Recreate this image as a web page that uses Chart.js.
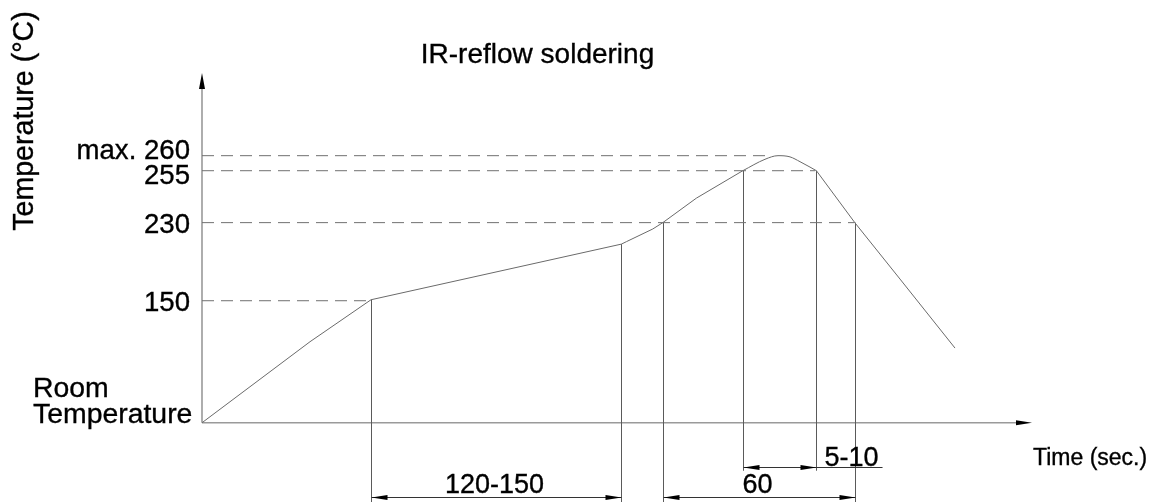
<!DOCTYPE html>
<html>
<head>
<meta charset="utf-8">
<script src="https://cdn.jsdelivr.net/npm/chart.js@4.4.1/dist/chart.umd.min.js"></script>
<style>
    html, body { margin: 0; padding: 0; background: #fff; }
    canvas { display: block; }
</style>
</head>
<body>
<canvas id="reflowChart" width="1163" height="502"></canvas>
<script>
// soldering profile, time in sec (schematic), temperature in °C
const roomTemp = 25;
const riseTime = [0, 54, 84.5, 209.7, 212.2, 225.4, 230.4, 247.2, 270.4];
const riseTemp = [25, 108, 151, 208, 210.5, 223.5, 230, 241.8, 255];
const peakTime = [270.4, 281.5, 288, 294, 299, 304, 307.2];
const peakTemp = [255, 258.8, 260, 259.6, 258, 256.2, 255];
const coolTime = [307.2, 326.4, 349, 376.5];
const coolTemp = [255, 230, 172.2, 101.5];

// temperature levels (dashed guides) and where they meet the curve
const levelTemps = [260, 255, 230, 150];
const levelLabels = ['max. 260', '255', '230', '150'];
const levelEndTime = [285, 306.5, 326.4, 84.5];

// vertical extension lines
const extTime = [84.5, 209.7, 230.4, 270.4, 307.2, 326.4];
const extTemp = [151, 208, 230, 255, 255, 230];

// time dimensions
const dimLabels = ['120-150', '60', '5-10'];
const dimFrom = [84.5, 230.4, 270.4];
const dimTo = [209.7, 326.4, 307.2];

// the drawing is not to scale above 230 °C: stretch the top of the axis
const warpIn = [25, 230, 255, 260];
const warpOut = [25, 230, 283.2, 298.6];

function warpTemp(t) {
    if (t <= warpIn[0]) return t;
    for (let i = 1; i < warpIn.length; i++) {
        if (t <= warpIn[i]) {
            let f = (t - warpIn[i - 1]) / (warpIn[i] - warpIn[i - 1]);
            return warpOut[i - 1] + f * (warpOut[i] - warpOut[i - 1]);
        }
    }
    return warpOut[warpOut.length - 1] + (t - warpIn[warpIn.length - 1]);
}

function unwarpTemp(w) {
    if (w <= warpOut[0]) return w;
    for (let i = 1; i < warpOut.length; i++) {
        if (w <= warpOut[i]) {
            let f = (w - warpOut[i - 1]) / (warpOut[i] - warpOut[i - 1]);
            return warpIn[i - 1] + f * (warpIn[i] - warpIn[i - 1]);
        }
    }
    return warpIn[warpIn.length - 1] + (w - warpOut[warpOut.length - 1]);
}

class WarpedScale extends Chart.LinearScale {
    getPixelForValue(value) {
        return super.getPixelForValue(warpTemp(value));
    }
    getValueForPixel(pixel) {
        return unwarpTemp(super.getValueForPixel(pixel));
    }
}
WarpedScale.id = 'warped';
WarpedScale.defaults = Chart.LinearScale.defaults;
Chart.register(WarpedScale);

const FONT = '"Liberation Sans", Arial, sans-serif';
const LEVEL_SHIFT = [-7, 3, 0, 0];
const DIM_ROWS = [74, 74, 44];

function toPoints(xs, ys) {
    return xs.map((x, i) => ({ x: x, y: ys[i] }));
}

function arrowHead(ctx, x, y, dx, dy, len, half) {
    ctx.beginPath();
    ctx.moveTo(x, y);
    ctx.lineTo(x - dx * len - dy * half, y - dy * len + dx * half);
    ctx.lineTo(x - dx * len + dy * half, y - dy * len - dx * half);
    ctx.closePath();
    ctx.fill();
}

// drawing text a touch heavier, like the scanned original
function boldText(ctx, text, x, y) {
    ctx.fillText(text, x, y);
    ctx.lineWidth = 0.35;
    ctx.strokeStyle = '#000';
    ctx.strokeText(text, x, y);
}

const drawingPlugin = {
    id: 'drawing',
    beforeDatasetsDraw(chart) {
        let ctx = chart.ctx;
        let xs = chart.scales.x;
        let ys = chart.scales.y;
        let area = chart.chartArea;
        let x0 = xs.getPixelForValue(0);
        let y0 = ys.getPixelForValue(roomTemp);

        ctx.save();
        // axes
        ctx.strokeStyle = '#9a9a9a';
        ctx.lineWidth = 1.6;
        ctx.beginPath();
        ctx.moveTo(x0, y0);
        ctx.lineTo(x0, area.top + 10);
        ctx.moveTo(x0, y0);
        ctx.lineTo(area.right - 10, y0);
        ctx.stroke();
        ctx.fillStyle = '#000';
        arrowHead(ctx, x0, area.top, 0, -1, 16, 3);
        arrowHead(ctx, area.right, y0, 1, 0, 16, 2.5);

        // extension lines
        ctx.strokeStyle = '#5a5a5a';
        ctx.lineWidth = 1;
        extTime.forEach((t, i) => {
            let x = Math.round(xs.getPixelForValue(t)) + 0.5;
            let bottom = area.bottom;
            if (t === dimFrom[2] || t === dimTo[2]) bottom = y0 + DIM_ROWS[2] + 4;
            ctx.beginPath();
            ctx.moveTo(x, ys.getPixelForValue(extTemp[i]));
            ctx.lineTo(x, bottom);
            ctx.stroke();
        });

        // dimensions
        ctx.font = '27px ' + FONT;
        ctx.textBaseline = 'alphabetic';
        dimLabels.forEach((label, i) => {
            let x1 = Math.round(xs.getPixelForValue(dimFrom[i])) + 0.5;
            let x2 = Math.round(xs.getPixelForValue(dimTo[i])) + 0.5;
            let y = Math.round(y0 + DIM_ROWS[i]) + 0.5;
            let lineEnd = x2;
            ctx.fillStyle = '#000';
            if (i === 2) {
                ctx.textAlign = 'left';
                boldText(ctx, label, x2 + 8, y - 2);
                lineEnd = x2 + 8 + ctx.measureText(label).width + 4;
            } else {
                ctx.textAlign = 'center';
                boldText(ctx, label, (x1 + x2) / 2 - 2, y - 5);
            }
            ctx.strokeStyle = '#333';
            ctx.lineWidth = 1;
            ctx.beginPath();
            ctx.moveTo(x1, y);
            ctx.lineTo(lineEnd, y);
            ctx.stroke();
            arrowHead(ctx, x1, y, -1, 0, 16, 2.5);
            arrowHead(ctx, x2, y, 1, 0, 16, 2.5);
        });
        ctx.restore();
    },
    afterDatasetsDraw(chart) {
        let ctx = chart.ctx;
        let xs = chart.scales.x;
        let ys = chart.scales.y;
        let x0 = xs.getPixelForValue(0);
        let y0 = ys.getPixelForValue(roomTemp);

        ctx.save();
        ctx.fillStyle = '#000';
        ctx.textBaseline = 'alphabetic';

        // title
        ctx.font = '28px ' + FONT;
        ctx.textAlign = 'center';
        boldText(ctx, 'IR-reflow soldering', 537.5, 63);

        // axis titles
        ctx.save();
        ctx.font = '28.6px ' + FONT;
        ctx.translate(33, 121);
        ctx.rotate(-Math.PI / 2);
        boldText(ctx, 'Temperature (°C)', 0, 0);
        ctx.restore();

        ctx.font = '23px ' + FONT;
        ctx.textAlign = 'left';
        boldText(ctx, 'Time (sec.)', xs.right + 1, y0 + 42);

        // temperature levels
        ctx.font = '27.6px ' + FONT;
        ctx.textAlign = 'right';
        levelTemps.forEach((t, i) => {
            boldText(ctx, levelLabels[i], x0 - 12, ys.getPixelForValue(t) + 9.9 + LEVEL_SHIFT[i]);
        });
        ctx.font = '28.4px ' + FONT;
        ctx.textAlign = 'left';
        boldText(ctx, 'Room', 33, y0 - 26);
        boldText(ctx, 'Temperature', 33, y0 + 0.6);
        ctx.restore();
    }
};

const guideSets = levelTemps.map((t, i) => ({
    data: toPoints([0, levelEndTime[i]], [t, t]),
    borderColor: '#707070',
    borderWidth: 1,
    borderDash: [12, 7],
    pointRadius: 0,
    tension: 0
}));

const curveStyle = {
    borderColor: '#6a6a6a',
    borderWidth: 1,
    pointRadius: 0,
    fill: false
};

new Chart(document.getElementById('reflowChart').getContext('2d'), {
    type: 'line',
    data: {
        datasets: guideSets.concat([
            Object.assign({ data: toPoints(riseTime, riseTemp), tension: 0 }, curveStyle),
            Object.assign({ data: toPoints(peakTime, peakTemp), cubicInterpolationMode: 'monotone' }, curveStyle),
            Object.assign({ data: toPoints(coolTime, coolTemp), tension: 0 }, curveStyle)
        ])
    },
    options: {
        responsive: false,
        animation: false,
        clip: false,
        layout: { padding: { left: 202, right: 131, top: 73, bottom: 0 } },
        plugins: {
            legend: { display: false },
            tooltip: { enabled: false }
        },
        scales: {
            x: { type: 'linear', min: 0, max: 415, display: false },
            y: { type: 'warped', min: -56.2, max: 383.3, display: false }
        }
    },
    plugins: [drawingPlugin]
});
</script>
</body>
</html>
